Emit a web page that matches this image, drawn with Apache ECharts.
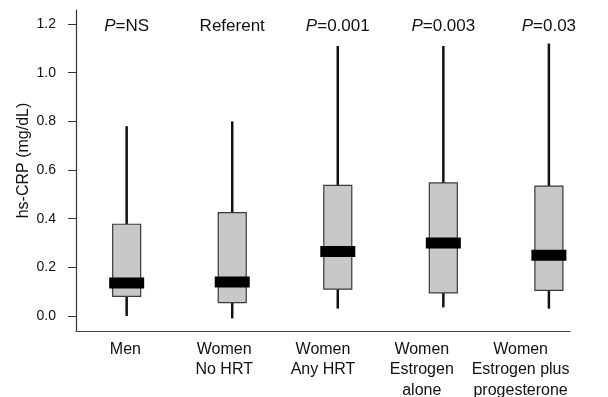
<!DOCTYPE html>
<html>
<head>
<meta charset="utf-8">
<script src="https://cdn.jsdelivr.net/npm/echarts@6/dist/echarts.min.js"></script>
<style>
  html, body { margin: 0; padding: 0; background: #fff; }
  #chart { width: 608px; height: 397px; }
</style>
</head>
<body>
<div id="chart"></div>
<script>
const categories = ["Men", "Women\nNo HRT", "Women\nAny HRT", "Women\nEstrogen\nalone", "Women\nEstrogen plus\nprogesterone"];
const pLabels = ["P=NS", "Referent", "P=0.001", "P=0.003", "P=0.03"];
const whiskerLow = [0.0, -0.01, 0.03, 0.035, 0.03];
const boxLow = [0.08, 0.055, 0.11, 0.095, 0.105];
const medians = [0.135, 0.14, 0.265, 0.3, 0.25];
const boxHigh = [0.377, 0.425, 0.537, 0.547, 0.534];
const whiskerHigh = [0.78, 0.8, 1.11, 1.11, 1.12];
const yTicks = [0, 0.2, 0.4, 0.6, 0.8, 1.0, 1.2];

const FONT = "Liberation Sans, Arial, sans-serif";
const BOX_W = 28;
const MED_W = 35;
const MED_H = 11;

const boxData = categories.map((_, i) => [i, whiskerLow[i], boxLow[i], medians[i], boxHigh[i], whiskerHigh[i]]);

function renderBox(params, api) {
  const x = api.value(0);
  const pLo = api.coord([x, api.value(1)]);
  const pQ1 = api.coord([x, api.value(2)]);
  const pMed = api.coord([x, api.value(3)]);
  const pQ3 = api.coord([x, api.value(4)]);
  const pHi = api.coord([x, api.value(5)]);
  const cx = pMed[0];
  const lineStyle = { stroke: "#111", lineWidth: 2.5 };
  return {
    type: "group",
    children: [
      { type: "line", shape: { x1: cx, y1: pLo[1], x2: cx, y2: pQ1[1] }, style: lineStyle },
      { type: "line", shape: { x1: cx, y1: pQ3[1], x2: cx, y2: pHi[1] }, style: lineStyle },
      {
        type: "rect",
        shape: { x: cx - BOX_W / 2, y: pQ3[1], width: BOX_W, height: pQ1[1] - pQ3[1] },
        style: { fill: "#c8c8c8", stroke: "#3a3a3a", lineWidth: 1.2 },
      },
      {
        type: "rect",
        shape: { x: cx - MED_W / 2, y: pMed[1] - MED_H / 2, width: MED_W, height: MED_H },
        style: { fill: "#000" },
      },
    ],
  };
}

const chart = echarts.init(document.getElementById("chart"), null, { renderer: "canvas" });
chart.setOption({
  animation: false,
  backgroundColor: "#fff",
  textStyle: { fontFamily: FONT },
  grid: { left: 76, right: 38, top: 10, bottom: 66, containLabel: false, outerBoundsMode: "none" },
  xAxis: [
    {
      type: "category",
      data: categories,
      axisLine: { onZero: false, lineStyle: { color: "#444", width: 1.2 } },
      axisTick: { show: false },
      axisLabel: { color: "#111", fontSize: 16, lineHeight: 20.5, margin: 8, fontFamily: FONT, interval: 0 },
      splitLine: { show: false },
    },
    {
      type: "value",
      position: "top",
      min: -0.48,
      max: 4.2,
      axisLine: { show: false, onZero: false },
      axisTick: { show: false },
      splitLine: { show: false },
      axisLabel: {
        inside: true,
        margin: 8,
        customValues: [0, 1, 2, 3, 4],
        color: "#111",
        fontSize: 17,
        fontFamily: FONT,
        formatter: (v) => {
          const s = pLabels[Math.round(v)] || "";
          return s.startsWith("P=") ? "{i|P}" + s.slice(1) : s;
        },
        rich: { i: { fontStyle: "italic", fontSize: 17, color: "#111", fontFamily: FONT } },
      },
    },
  ],
  yAxis: {
    type: "value",
    min: -0.062,
    max: 1.258,
    name: "hs-CRP (mg/dL)",
    nameLocation: "middle",
    nameGap: 44,
    nameMoveOverlap: false,
    nameTextStyle: { fontSize: 16, color: "#111", fontFamily: FONT, padding: [0, 0, 0, 20] },
    axisLine: { show: true, onZero: false, lineStyle: { color: "#333", width: 1.2 } },
    axisTick: { show: true, length: 8, customValues: yTicks, lineStyle: { color: "#333" } },
    axisLabel: {
      customValues: yTicks,
      margin: 20,
      fontSize: 14,
      color: "#111",
      fontFamily: FONT,
      formatter: (v) => v.toFixed(1),
    },
    splitLine: { show: false },
  },
  series: [
    {
      type: "custom",
      xAxisIndex: 1,
      renderItem: renderBox,
      data: boxData,
      encode: { x: 0, y: [1, 2, 3, 4, 5] },
      silent: true,
    },
  ],
});
</script>
</body>
</html>
